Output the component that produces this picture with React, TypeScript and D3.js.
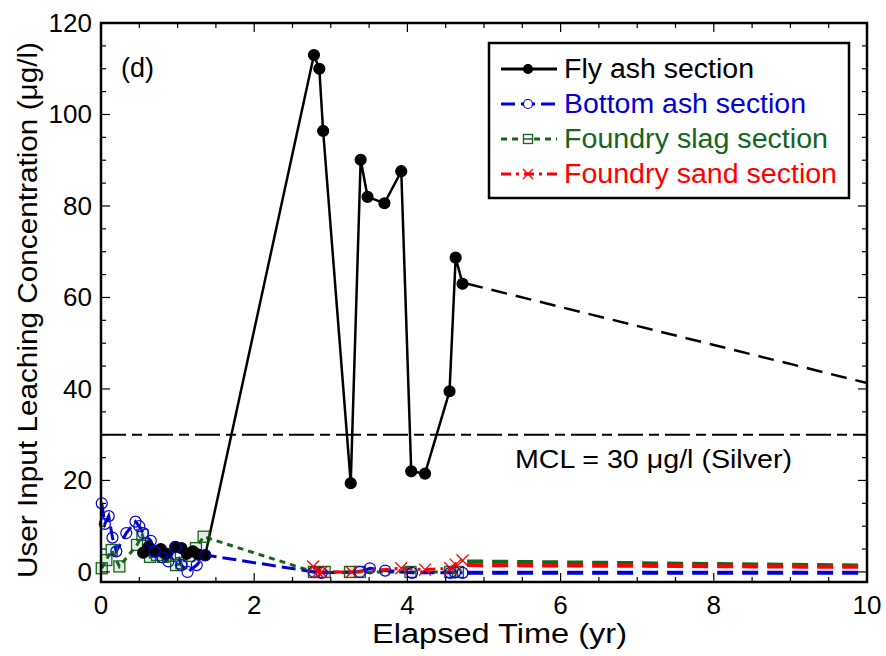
import React from "react";
import * as d3 from "d3";

// Fly ash section (measured)
const flyX = [0.55, 0.62, 0.7, 0.78, 0.85, 0.97, 1.05, 1.12, 1.2, 1.27, 1.36, 2.78, 2.85, 2.9, 3.26, 3.39, 3.48, 3.7, 3.92, 4.05, 4.23, 4.55, 4.63, 4.72];
const flyY = [4.2, 5.5, 4.5, 5.0, 4.0, 5.5, 5.2, 4.0, 4.5, 3.8, 3.6, 113.0, 110.0, 96.4, 19.4, 90.1, 82.0, 80.6, 87.6, 22.0, 21.5, 39.5, 68.7, 63.0];

// Bottom ash section
const bottomX = [0.01, 0.05, 0.1, 0.15, 0.2, 0.33, 0.45, 0.5, 0.55, 0.65, 0.7, 0.8, 0.88, 0.97, 1.05, 1.13, 1.25, 1.36, 2.78, 2.88, 3.38, 3.51, 3.71, 4.06, 4.56, 4.62, 4.72];
const bottomY = [15.0, 10.5, 12.2, 7.5, 4.5, 8.5, 11.0, 10.0, 8.5, 6.8, 4.5, 3.2, 2.3, 5.4, 1.5, 0.0, 1.5, 3.7, 0.0, -0.2, 0.0, 0.8, 0.3, -0.2, -0.2, -0.1, -0.2];

// Foundry slag section
const slagX = [0.01, 0.07, 0.14, 0.24, 0.47, 0.54, 0.64, 0.73, 0.81, 0.9, 0.98, 1.05, 1.15, 1.24, 1.34, 2.78, 2.92, 3.25, 3.38, 4.04, 4.56, 4.66];
const slagY = [0.8, 2.6, 4.8, 1.2, 5.9, 8.1, 3.3, 3.7, 3.3, 3.5, 1.5, 1.9, 3.5, 5.2, 7.7, 0.0, 0.0, 0.0, 0.0, 0.0, 0.0, 0.0];

// Foundry sand section
const sandX = [2.77, 2.83, 2.88, 3.27, 3.92, 4.23, 4.56, 4.63, 4.72];
const sandY = [1.2, 0.0, 0.0, 0.0, 0.8, 0.5, 0.8, 1.6, 2.5];

// Projections to 10 yr
const projX = [4.78, 10];
const flyProj = [63.0, 41.3];
const bottomProj = [-0.2, -0.2];
const slagProj = [2.3, 1.4];
const sandProj = [1.5, 1.1];

const mcl = 30;
const xTicks = [0, 2, 4, 6, 8, 10];
const yTicks = [0, 20, 40, 60, 80, 100, 120];

const W = 886;
const H = 656;
const L = 101, R = 867, T = 23, B = 582;
const FONT = "Liberation Sans, Arial, sans-serif";

const BLACK = "#000";
const BLUE = "#0000d8";
const GREEN = "#15651f";
const RED = "#ff0000";

export default function App() {
  const x = d3.scaleLinear().domain([0, 10]).range([L, R]);
  const y = d3.scaleLinear().domain([-2.2, 120]).range([B, T]);

  const line = d3.line<[number, number]>().x((d) => x(d[0])).y((d) => y(d[1]));
  const pts = (xs: number[], ys: number[]) => xs.map((v, i) => [v, ys[i]] as [number, number]);

  const fly = pts(flyX, flyY);
  const bottom = pts(bottomX, bottomY);
  const slag = pts(slagX, slagY);
  const sand = pts(sandX, sandY);

  const xMinor = d3.range(0, 10.001, 0.5);
  const yMinor = d3.range(0, 120.001, 5);

  const circle = (cx: number, cy: number, fill: string, stroke: string, r = 5, key?: any) => (
    <circle key={key} cx={cx} cy={cy} r={r} fill={fill} stroke={stroke} strokeWidth={1.2} />
  );
  const square = (cx: number, cy: number, key?: any) => (
    <g key={key}>
      <rect x={cx - 5.5} y={cy - 5.5} width={11} height={11} fill={GREEN} fillOpacity={0.12} stroke={GREEN} strokeWidth={1.3} />
    </g>
  );
  const cross = (cx: number, cy: number, key?: any) => (
    <path key={key} d={`M${cx - 6},${cy - 6}L${cx + 6},${cy + 6}M${cx - 6},${cy + 6}L${cx + 6},${cy - 6}`} stroke={RED} strokeWidth={1.3} />
  );

  const legend = [
    { label: "Fly ash section", color: BLACK, dash: "", kind: "fly", len: 190 },
    { label: "Bottom ash section", color: BLUE, dash: "14,6", kind: "bottom", len: 242 },
    { label: "Foundry slag section", color: GREEN, dash: "6,5", kind: "slag", len: 264 },
    { label: "Foundry sand section", color: RED, dash: "10,5,3,5", kind: "sand", len: 273 },
  ];

  return (
    <div style={{ position: "fixed", left: 0, top: 0 }}>
      <svg width={W} height={H} style={{ display: "block", background: "#fff" }} fontFamily={FONT}>
        {/* MCL line */}
        <line x1={x(0)} x2={x(10)} y1={y(mcl)} y2={y(mcl)} stroke={BLACK} strokeWidth={2} strokeDasharray="25,6,10,6" />
        <text x={515} y={468} fontSize={26} textLength={277} lengthAdjust="spacingAndGlyphs">MCL = 30 μg/l (Silver)</text>

        {/* projections */}
        <path d={line(pts(projX, slagProj)) || ""} fill="none" stroke={GREEN} strokeWidth={4} strokeDasharray="16,9" />
        <path d={line(pts(projX, sandProj)) || ""} fill="none" stroke={RED} strokeWidth={4} strokeDasharray="16,9" />
        <path d={line(pts(projX, bottomProj)) || ""} fill="none" stroke={BLUE} strokeWidth={4} strokeDasharray="16,9" />
        <path d={line(pts(projX, flyProj)) || ""} fill="none" stroke={BLACK} strokeWidth={2.5} strokeDasharray="16,9" />

        {/* series lines */}
        <path d={line(slag) || ""} fill="none" stroke={GREEN} strokeWidth={3} strokeDasharray="6,5" />
        <path d={line(bottom) || ""} fill="none" stroke={BLUE} strokeWidth={3} strokeDasharray="14,6" />
        <path d={line(sand) || ""} fill="none" stroke={RED} strokeWidth={3} strokeDasharray="10,5,3,5" />
        <path d={line(fly) || ""} fill="none" stroke={BLACK} strokeWidth={2.5} />

        {/* markers */}
        {slag.map((d, i) => square(x(d[0]), y(d[1]), "s" + i))}
        {fly.map((d, i) => circle(x(d[0]), y(d[1]), BLACK, BLACK, 5.5, "f" + i))}
        {bottom.map((d, i) => circle(x(d[0]), y(d[1]), "none", BLUE, 5.5, "b" + i))}
        {sand.map((d, i) => cross(x(d[0]), y(d[1]), "x" + i))}

        {/* frame and ticks */}
        <rect x={L} y={T} width={R - L} height={B - T} fill="none" stroke={BLACK} strokeWidth={2.5} />
        {xMinor.map((v, i) => {
          const len = v % 2 === 0 ? 9 : 5;
          return (
            <g key={"xt" + i}>
              <line x1={x(v)} x2={x(v)} y1={B} y2={B - len} stroke={BLACK} strokeWidth={1.2} />
              <line x1={x(v)} x2={x(v)} y1={T} y2={T + len} stroke={BLACK} strokeWidth={1.2} />
            </g>
          );
        })}
        {yMinor.map((v, i) => {
          const len = v % 20 === 0 ? 9 : 5;
          return (
            <g key={"yt" + i}>
              <line x1={L} x2={L + len} y1={y(v)} y2={y(v)} stroke={BLACK} strokeWidth={1.2} />
              <line x1={R} x2={R - len} y1={y(v)} y2={y(v)} stroke={BLACK} strokeWidth={1.2} />
            </g>
          );
        })}
        {xTicks.map((v) => (
          <text key={"xl" + v} x={x(v)} y={614} fontSize={26} textAnchor="middle">{v}</text>
        ))}
        {yTicks.map((v) => (
          <text key={"yl" + v} x={92} y={y(v) + 9} fontSize={26} textAnchor="end">{v}</text>
        ))}
        <text x={372} y={643} fontSize={27} textLength={255} lengthAdjust="spacingAndGlyphs">Elapsed Time (yr)</text>
        <text transform={`translate(37,578) rotate(-90)`} fontSize={27} textLength={536} lengthAdjust="spacingAndGlyphs">
          User Input Leaching Concentration (μg/l)
        </text>
        <text x={121} y={77} fontSize={27}>(d)</text>

        {/* legend */}
        <rect x={489} y={43} width={360} height={155} fill="#fff" stroke={BLACK} strokeWidth={2.5} />
        {legend.map((e, i) => {
          const cy = 69 + i * 35;
          const mx = 528;
          return (
            <g key={"lg" + i}>
              <line x1={501} x2={557} y1={cy} y2={cy} stroke={e.color} strokeWidth={3} strokeDasharray={e.dash} />
              {e.kind === "fly" && circle(mx, cy, BLACK, BLACK, 4.5)}
              {e.kind === "bottom" && circle(mx, cy, "#fff", BLUE, 4.5)}
              {e.kind === "slag" && (
                <rect x={mx - 4.5} y={cy - 4.5} width={9} height={9} fill="#fff" stroke={GREEN} strokeWidth={1.3} />
              )}
              {e.kind === "slag" && <line x1={mx - 4.5} x2={mx + 4.5} y1={cy} y2={cy} stroke={GREEN} strokeWidth={1.5} />}
              {e.kind === "sand" && (
                <path d={`M${mx - 5},${cy - 5}L${mx + 5},${cy + 5}M${mx - 5},${cy + 5}L${mx + 5},${cy - 5}`} stroke={RED} strokeWidth={1.3} />
              )}
              <text x={564} y={cy + 9} fontSize={27} fill={e.color} textLength={e.len} lengthAdjust="spacingAndGlyphs">{e.label}</text>
            </g>
          );
        })}
      </svg>
    </div>
  );
}
